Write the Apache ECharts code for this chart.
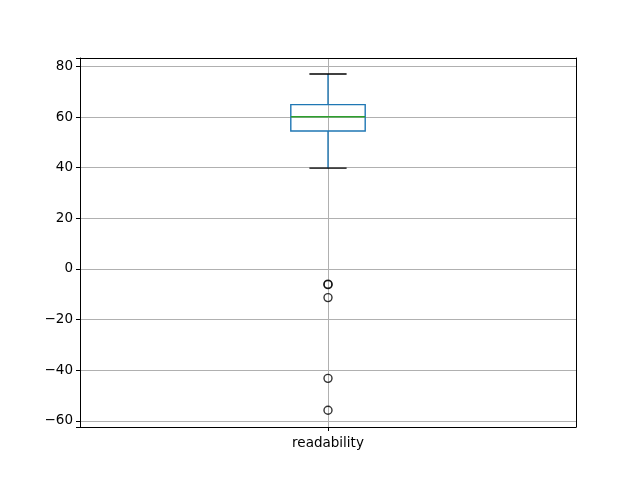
<!DOCTYPE html>
<html>
<head>
<meta charset="utf-8">
<script src="https://cdn.jsdelivr.net/npm/echarts@6/dist/echarts.min.js"></script>
<style>html,body{margin:0;padding:0;background:#fff}#c{width:640px;height:480px}</style>
</head>
<body>
<div id="c"></div>
<script>
var categories = ['readability'];
// [position, lowerWhisker, Q1, median, Q3, upperWhisker]
var boxStats = [[1, 39.8, 54.5, 60.1, 64.9, 77.0]];
var outliers = [[1, -6.0], [1, -6.2], [1, -11.3], [1, -43.2], [1, -55.8]];
var yTicks = [-60, -40, -20, 0, 20, 40, 60, 80];
var xTicks = [1];

var chart = echarts.init(document.getElementById('c'), null, {renderer: 'canvas'});
var font = 'DejaVu Sans';
var X_MIN = 0.5, X_MAX = 1.5, Y_MIN = -62.4, Y_MAX = 83.3;
var spine = {show: true, onZero: false, lineStyle: {color: '#000', width: 1}};
var option = {
  animation: false,
  backgroundColor: '#fff',
  grid: {left: 80, right: 64, top: 58, bottom: 53, show: false},
  xAxis: [{
    type: 'value', min: X_MIN, max: X_MAX, interval: 0.5, position: 'bottom',
    axisLine: spine,
    axisTick: {show: true, length: 4, customValues: xTicks, lineStyle: {color: '#000', width: 1}},
    axisLabel: {customValues: xTicks, color: '#000', fontFamily: font, fontSize: 13.5, margin: 9,
      formatter: function (v) { return categories[Math.round(v) - 1] || ''; }},
    splitLine: {show: true, lineStyle: {color: '#b0b0b0', width: 1}}
  }, {
    type: 'value', min: X_MIN, max: X_MAX, position: 'top',
    axisLine: spine, axisTick: {show: false}, axisLabel: {show: false}, splitLine: {show: false}
  }],
  yAxis: [{
    type: 'value', min: Y_MIN, max: Y_MAX, splitNumber: 7, position: 'left',
    axisLine: spine,
    axisTick: {show: true, length: 4, lineStyle: {color: '#000', width: 1}},
    axisLabel: {customValues: yTicks, color: '#000', fontFamily: font, fontSize: 13.5, margin: 7, padding: [5, 0, 0, 0],
      formatter: function (v) { return v < 0 ? '\u2212' + Math.abs(v) : String(v); }},
    splitLine: {show: true, lineStyle: {color: '#b0b0b0', width: 1}}
  }, {
    type: 'value', min: Y_MIN, max: Y_MAX, position: 'right',
    axisLine: spine, axisTick: {show: false}, axisLabel: {show: false}, splitLine: {show: false}
  }],
  series: [
    {
      type: 'custom',
      data: boxStats,
      renderItem: function (params, api) {
        var x = api.value(0);
        var lo = api.coord([x, api.value(1)]);
        var q1 = api.coord([x, api.value(2)]);
        var med = api.coord([x, api.value(3)]);
        var q3 = api.coord([x, api.value(4)]);
        var hi = api.coord([x, api.value(5)]);
        var bl = api.coord([x - 0.075, 0])[0], br = api.coord([x + 0.075, 0])[0];
        var cl = api.coord([x - 0.0375, 0])[0], cr = api.coord([x + 0.0375, 0])[0];
        var blue = '#1f77b4', w = 1.4;
        return {
          type: 'group',
          children: [
            {type: 'line', shape: {x1: q1[0], y1: q1[1], x2: lo[0], y2: lo[1]}, style: {stroke: blue, lineWidth: w}},
            {type: 'line', shape: {x1: q3[0], y1: q3[1], x2: hi[0], y2: hi[1]}, style: {stroke: blue, lineWidth: w}},
            {type: 'rect', shape: {x: bl, y: q3[1], width: br - bl, height: q1[1] - q3[1]}, style: {fill: 'none', stroke: blue, lineWidth: w}},
            {type: 'line', shape: {x1: bl, y1: med[1], x2: br, y2: med[1]}, style: {stroke: '#2ca02c', lineWidth: w}},
            {type: 'line', shape: {x1: cl, y1: lo[1], x2: cr, y2: lo[1]}, style: {stroke: '#000', lineWidth: w}},
            {type: 'line', shape: {x1: cl, y1: hi[1], x2: cr, y2: hi[1]}, style: {stroke: '#000', lineWidth: w}}
          ]
        };
      },
      z: 3
    },
    {
      type: 'scatter',
      data: outliers,
      symbol: 'circle',
      symbolSize: 8,
      itemStyle: {color: 'rgba(0,0,0,0)', borderColor: '#000', borderWidth: 1.4},
      z: 4
    }
  ]
};
chart.setOption(option);
</script>
</body>
</html>
